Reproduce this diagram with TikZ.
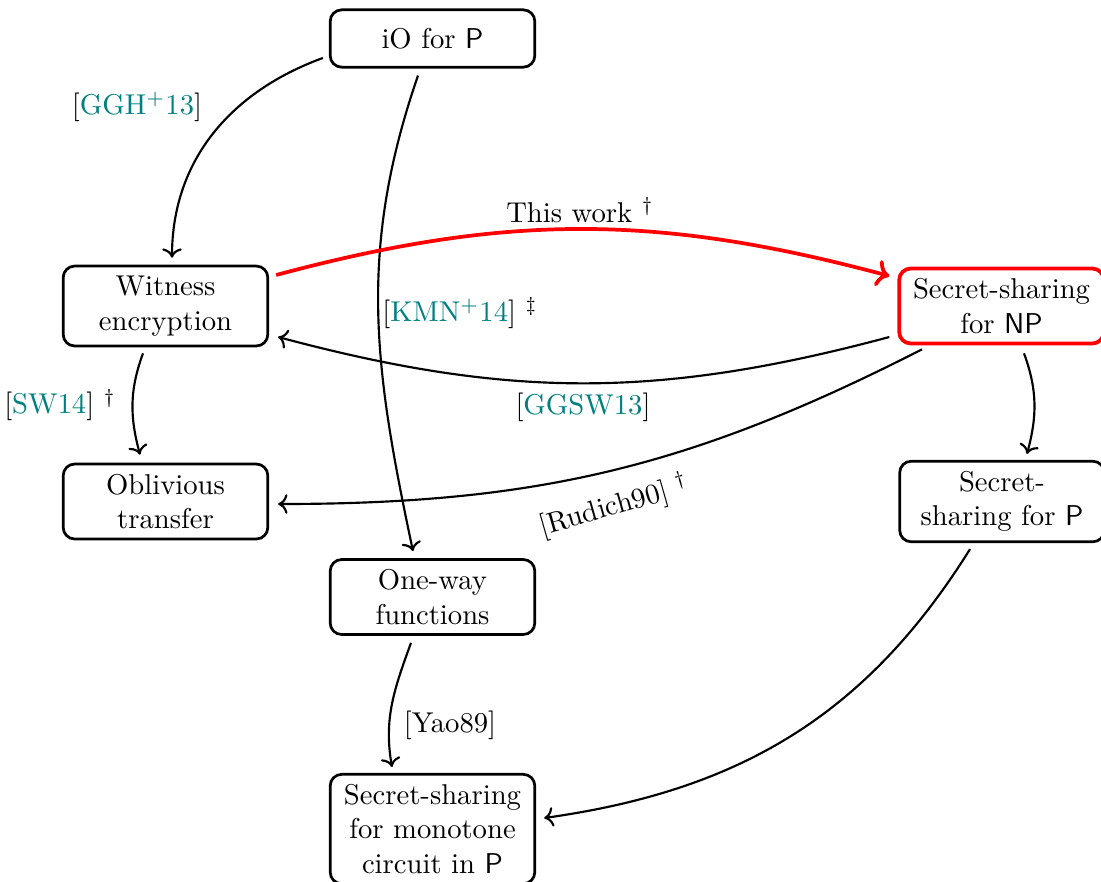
\documentclass[tikz,border=0pt]{standalone}
\usetikzlibrary{arrows.meta,calc}
\definecolor{citecol}{rgb}{0.0,0.5,0.5}
\newcommand{\ctn}[1]{[\textcolor{citecol}{#1}]}
\begin{document}
\begin{tikzpicture}[x=0.349pt,y=-0.349pt,
  box/.style={draw, line width=0.95pt, rounded corners=4pt, align=center, text width=64.4pt,
    inner sep=3.5pt, minimum height=20pt},
  redbox/.style={box, draw=red, line width=1.3pt},
  edge/.style={line width=0.75pt, ->},
  rededge/.style={line width=1.3pt, red, ->},
  lbl/.style={inner sep=0pt}]
\useasboundingbox (0,0) rectangle (1101,881);

\node[box] (io) at (432.5,38.5) {iO for $\mathsf{P}$};
\node[box] (we) at (165.5,306) {Witness\\encryption};
\node[redbox] (ssnp) at (1001.5,306) {Secret-sharing\\for $\mathsf{NP}$};
\node[box] (ot) at (165.5,501.5) {Oblivious\\transfer};
\node[box] (ssp) at (1002,501.5) {Secret-\\sharing for $\mathsf{P}$};
\node[box] (owf) at (432.5,597) {One-way\\functions};
\node[box] (mono) at (432.5,829) {Secret-sharing\\for monotone\\circuit in $\mathsf{P}$};

% edges
\draw[edge] ([shift={(-6,19.5)}]io.west) to[out=200,in=90] ([shift={(6.5,-7)}]we.north);
\draw[edge] ([shift={(-14.5,7)}]io.south) to[out=251,in=102] ([shift={(-19.5,-7)}]owf.north);
\draw[rededge] ([shift={(7,-31)}]we.east) to[out=15,in=165] ([shift={(-8,-30)}]ssnp.west);
\draw[edge] ([shift={(-8,31)}]ssnp.west) to[out=195,in=-15] ([shift={(9,31)}]we.east);
\draw[edge] ([shift={(-79.5,4)}]ssnp.south) to[out=207,in=0] ([shift={(9,2.5)}]ot.east);
\draw[edge] ([shift={(-22.5,6)}]we.south) to[out=250,in=105] ([shift={(-25.5,-8)}]ot.north);
\draw[edge] ([shift={(22.5,8)}]ssnp.south) to[out=-70,in=75] ([shift={(25,-6)}]ssp.north);
\draw[edge] ([shift={(-21.5,7)}]owf.south) to[out=250,in=100] ([shift={(-40.5,-6)}]mono.north);
\draw[edge] ([shift={(-32,6)}]ssp.south) to[out=238,in=8] ([shift={(8,-11)}]mono.east);

% labels
\node[lbl] (l1) at (137,107) {\ctn{GGH$^+$13}};
\node[lbl] (l2) at (460,313) {\ctn{KMN$^+$14} $^\ddagger$};
\node[lbl] (l3) at (580,210) {This work $^\dagger$};
\node[lbl] (l4) at (583,407) {\ctn{GGSW13}};
\node[lbl,rotate=16] (l5) at (614,506) {[Rudich90] $^\dagger$};
\node[lbl] (l6) at (60,405) {\ctn{SW14} $^\dagger$};
\node[lbl] (l7) at (450,725) {[Yao89]};
\end{tikzpicture}
\end{document}
